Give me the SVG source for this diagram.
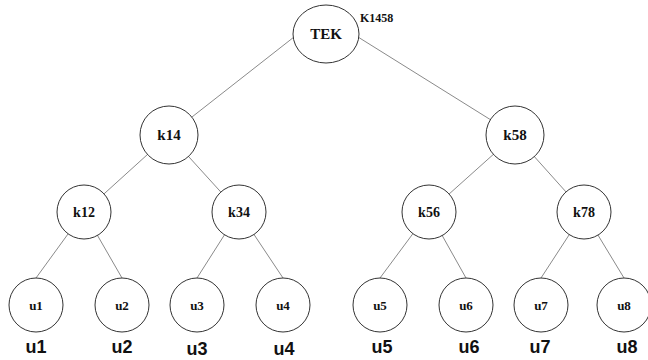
<svg xmlns="http://www.w3.org/2000/svg" width="648" height="360" viewBox="0 0 648 360">
<style>
.edge{stroke:#8a8a8a;stroke-width:1;fill:none}
.node{fill:#fff;stroke:#333;stroke-width:1}
.lbl{font-family:"Liberation Serif","Times New Roman",serif;font-weight:bold;fill:#111;text-anchor:middle}
.big{font-size:15px}
.mid{font-size:14px}
.small{font-size:13px}
.cap{font-family:"Liberation Sans",Arial,sans-serif;font-weight:bold;font-size:18px;fill:#111;text-anchor:middle}
</style>
<rect width="648" height="360" fill="#fff"/>
<g id="connectors">
<line class="edge" x1="294" y1="37" x2="169" y2="135"/>
<line class="edge" x1="358" y1="37" x2="515" y2="135"/>
<line class="edge" x1="169" y1="135" x2="84" y2="212"/>
<line class="edge" x1="169" y1="135" x2="239" y2="212"/>
<line class="edge" x1="515" y1="135" x2="429" y2="212"/>
<line class="edge" x1="515" y1="135" x2="584" y2="212"/>
<line class="edge" x1="84" y1="212" x2="36" y2="278"/>
<line class="edge" x1="84" y1="212" x2="122" y2="278"/>
<line class="edge" x1="239" y1="212" x2="197" y2="278"/>
<line class="edge" x1="239" y1="212" x2="283" y2="278"/>
<line class="edge" x1="429" y1="212" x2="380" y2="278"/>
<line class="edge" x1="429" y1="212" x2="466" y2="278"/>
<line class="edge" x1="584" y1="212" x2="541" y2="278"/>
<line class="edge" x1="584" y1="212" x2="624" y2="278"/>
</g>
<g id="TEK">
<ellipse class="node" cx="326" cy="34" rx="33" ry="29"/>
<text class="lbl big" x="326" y="39">TEK</text>
<text class="lbl" style="font-size:12px;text-anchor:start" x="360" y="22">K1458</text>
</g>
<g id="k14"><circle class="node" cx="169" cy="135" r="29"/><text class="lbl big" x="169" y="140">k14</text></g>
<g id="k58"><circle class="node" cx="515" cy="135" r="29"/><text class="lbl big" x="515" y="140">k58</text></g>
<g id="k12"><circle class="node" cx="84" cy="212" r="27"/><text class="lbl mid" x="84" y="217">k12</text></g>
<g id="k34"><circle class="node" cx="239" cy="212" r="27"/><text class="lbl mid" x="239" y="217">k34</text></g>
<g id="k56"><circle class="node" cx="429" cy="212" r="27"/><text class="lbl mid" x="429" y="217">k56</text></g>
<g id="k78"><circle class="node" cx="584" cy="212" r="27"/><text class="lbl mid" x="584" y="217">k78</text></g>
<g id="u1"><circle class="node" cx="36" cy="305" r="27"/><text class="lbl small" x="36" y="310">u1</text></g>
<g id="u2"><circle class="node" cx="122" cy="305" r="27"/><text class="lbl small" x="122" y="310">u2</text></g>
<g id="u3"><circle class="node" cx="197" cy="305" r="27"/><text class="lbl small" x="197" y="310">u3</text></g>
<g id="u4"><circle class="node" cx="283" cy="305" r="27"/><text class="lbl small" x="283" y="310">u4</text></g>
<g id="u5"><circle class="node" cx="380" cy="305" r="27"/><text class="lbl small" x="380" y="310">u5</text></g>
<g id="u6"><circle class="node" cx="466" cy="305" r="27"/><text class="lbl small" x="466" y="310">u6</text></g>
<g id="u7"><circle class="node" cx="541" cy="305" r="27"/><text class="lbl small" x="541" y="310">u7</text></g>
<g id="u8"><circle class="node" cx="624" cy="305" r="27"/><text class="lbl small" x="624" y="310">u8</text></g>
<g id="captions">
<text class="cap" x="36" y="353">u1</text>
<text class="cap" x="122" y="353">u2</text>
<text class="cap" x="197" y="355">u3</text>
<text class="cap" x="284" y="355">u4</text>
<text class="cap" x="382" y="353">u5</text>
<text class="cap" x="469" y="353">u6</text>
<text class="cap" x="540" y="353">u7</text>
<text class="cap" x="627" y="353">u8</text>
</g>
</svg>
